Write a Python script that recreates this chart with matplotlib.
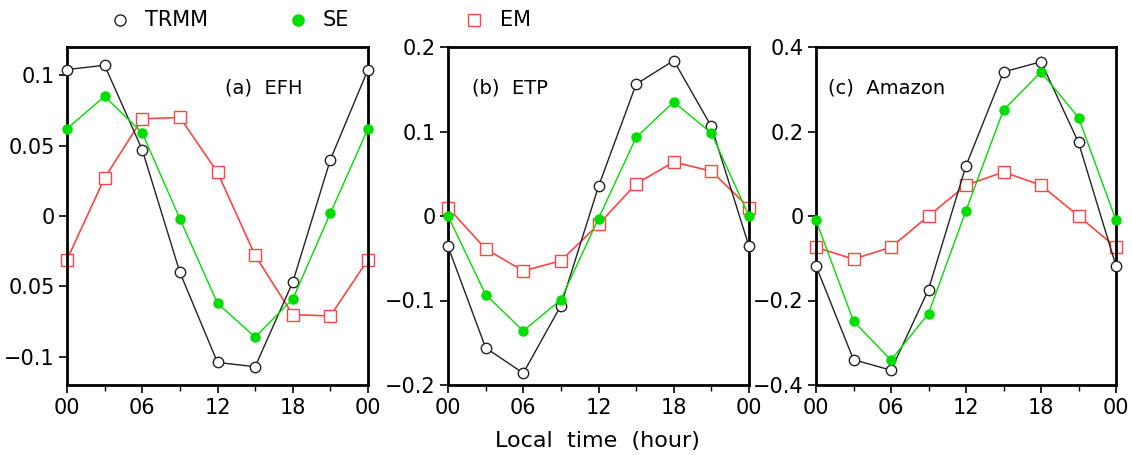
import numpy as np
import matplotlib
matplotlib.use("Agg")
import matplotlib.pyplot as plt
from matplotlib.lines import Line2D

# local hours, last point repeats 00
hours = [0, 3, 6, 9, 12, 15, 18, 21, 24]
xtick_labels = ["00", "06", "12", "18", "00"]

# (a) EFH
efh_trmm = [0.104, 0.107, 0.047, -0.040, -0.104, -0.107, -0.047, 0.040, 0.104]
efh_se = [0.062, 0.085, 0.059, -0.002, -0.062, -0.086, -0.059, 0.002, 0.062]
efh_em = [-0.031, 0.027, 0.069, 0.070, 0.031, -0.028, -0.070, -0.071, -0.031]

# (b) ETP
etp_trmm = [-0.036, -0.156, -0.186, -0.106, 0.035, 0.156, 0.184, 0.106, -0.036]
etp_se = [0.000, -0.093, -0.136, -0.099, -0.003, 0.093, 0.135, 0.098, 0.000]
etp_em = [0.010, -0.039, -0.065, -0.053, -0.010, 0.038, 0.064, 0.053, 0.010]

# (c) Amazon
amz_trmm = [-0.118, -0.340, -0.365, -0.174, 0.119, 0.341, 0.365, 0.174, -0.118]
amz_se = [-0.010, -0.249, -0.341, -0.231, 0.013, 0.251, 0.341, 0.233, -0.010]
amz_em = [-0.074, -0.102, -0.074, 0.000, 0.073, 0.104, 0.073, 0.000, -0.074]

legend_labels = ["TRMM", "SE", "EM"]

panels = [
    ("(a)  EFH", efh_trmm, efh_se, efh_em, (-0.12, 0.12),
     [-0.1, -0.05, 0, 0.05, 0.1], ["\u22120.1", "0.05", "0", "0.05", "0.1"]),
    ("(b)  ETP", etp_trmm, etp_se, etp_em, (-0.2, 0.2),
     [-0.2, -0.1, 0, 0.1, 0.2], ["\u22120.2", "\u22120.1", "0", "0.1", "0.2"]),
    ("(c)  Amazon", amz_trmm, amz_se, amz_em, (-0.4, 0.4),
     [-0.4, -0.2, 0, 0.2, 0.4], ["\u22120.4", "\u22120.2", "0", "0.2", "0.4"]),
]

GREEN = "#00dd00"
RED = "#ff4444"
BLACK = "#222222"

W, H = 1132, 455
fig = plt.figure(figsize=(W / 100, H / 100), dpi=100)

# axes boxes in pixels (left, right) and where each title starts
boxes = [(67, 368), (448, 749), (816, 1116)]
title_x = [0.525, 0.08, 0.04]
top, bottom = 47, 385

for (title, trmm, se, em, ylim, yt, ytl), (l, r), tx in zip(panels, boxes, title_x):
    ax = fig.add_axes([l / W, 1 - bottom / H, (r - l) / W, (bottom - top) / H])
    ax.plot(hours, trmm, color=BLACK, lw=1.0, marker="o", ms=7.5,
            mfc="white", mec=BLACK, mew=1.0, zorder=3, clip_on=False)
    ax.plot(hours, se, color=GREEN, lw=1.0, marker="o", ms=6.5,
            mfc=GREEN, mec=GREEN, zorder=4, clip_on=False)
    ax.plot(hours, em, color=RED, lw=1.2, marker="s", ms=8.5,
            mfc="white", mec=RED, mew=1.0, zorder=2, clip_on=False)
    ax.set_xlim(0, 24)
    ax.set_ylim(*ylim)
    ax.set_xticks([0, 6, 12, 18, 24])
    ax.set_xticklabels(xtick_labels)
    ax.set_xticks([3, 9, 15, 21], minor=True)
    ax.set_yticks(yt)
    ax.set_yticklabels(ytl)
    ax.tick_params(axis="both", which="major", direction="out", length=6,
                   width=1.2, labelsize=15, pad=3)
    ax.tick_params(axis="x", which="minor", direction="out", length=4, width=1.0)
    for s in ax.spines.values():
        s.set_linewidth(2.0)
    ax.text(tx, 0.879, title, transform=ax.transAxes, fontsize=14,
            ha="left", va="center")

fig.text(597 / W, 1 - 441 / H, "Local  time  (hour)", ha="center", va="center",
         fontsize=16)

# legend row at top, placed by hand
styles = [
    dict(marker="o", ms=8, mfc="white", mec=BLACK),
    dict(marker="o", ms=8, mfc=GREEN, mec=GREEN),
    dict(marker="s", ms=9, mfc="white", mec=RED),
]
sym_x = [120, 298, 474]
txt_x = [145, 323, 500]
for lab, st, sx, tx in zip(legend_labels, styles, sym_x, txt_x):
    fig.add_artist(Line2D([sx / W], [1 - 20 / H], ls="none",
                          transform=fig.transFigure, **st))
    fig.text(tx / W, 1 - 20 / H, lab, ha="left", va="center", fontsize=15)

fig.savefig("out.png", dpi=100)
